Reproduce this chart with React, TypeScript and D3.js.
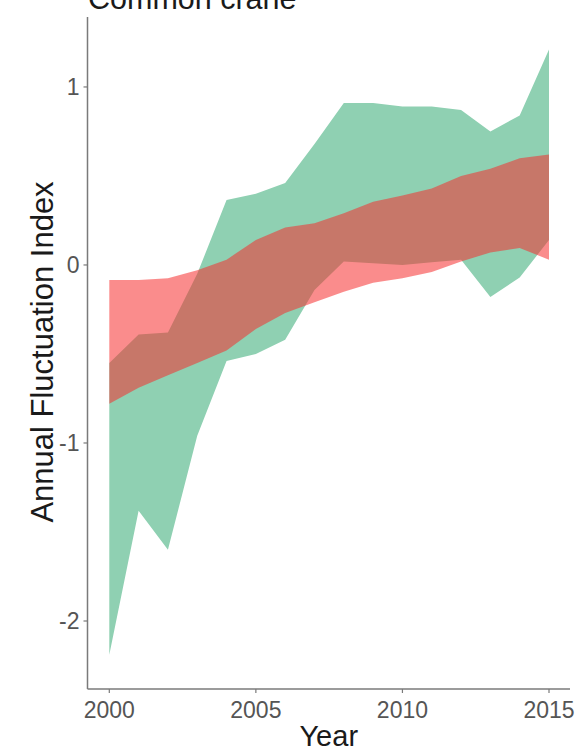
import React from "react";
import * as d3 from "d3";

const years = [2000, 2001, 2002, 2003, 2004, 2005, 2006, 2007, 2008, 2009, 2010, 2011, 2012, 2013, 2014, 2015];
const greenUpper = [-0.55, -0.39, -0.38, -0.05, 0.365, 0.40, 0.46, 0.68, 0.91, 0.91, 0.89, 0.89, 0.87, 0.75, 0.84, 1.21];
const greenLower = [-2.19, -1.38, -1.60, -0.96, -0.54, -0.50, -0.42, -0.14, 0.02, 0.01, 0.0, 0.015, 0.03, -0.18, -0.07, 0.14];
const redUpper = [-0.085, -0.085, -0.075, -0.03, 0.03, 0.14, 0.21, 0.235, 0.29, 0.355, 0.39, 0.43, 0.50, 0.54, 0.60, 0.62];
const redLower = [-0.78, -0.69, -0.62, -0.55, -0.48, -0.36, -0.27, -0.21, -0.15, -0.10, -0.075, -0.04, 0.02, 0.07, 0.095, 0.03];
const xTicks = [2000, 2005, 2010, 2015];
const yTicks = [-2, -1, 0, 1];
const title = "Common crane";
const xTitle = "Year";
const yTitle = "Annual Fluctuation Index";

export default function App() {
  const W = 577, H = 752;
  const left = 87.5, right = 570, top = 17, bottom = 689;
  const x = d3.scaleLinear().domain([2000, 2015]).range([109.3, 549]);
  const y = d3.scaleLinear().domain([-2.382, 1.393]).range([bottom, top]);
  const font = "'Liberation Sans', Arial, sans-serif";

  const greenPath = d3
    .area<number>()
    .x((_, i) => x(years[i]))
    .y0((_, i) => y(greenLower[i]))
    .y1((_, i) => y(greenUpper[i]))(years);
  const redPath = d3
    .area<number>()
    .x((_, i) => x(years[i]))
    .y0((_, i) => y(redLower[i]))
    .y1((_, i) => y(redUpper[i]))(years);

  const axisColor = "#7a7a7a";
  const tickText = "#555555";

  return (
    <svg
      width={W}
      height={H}
      style={{ position: "absolute", left: 0, top: 0, background: "#ffffff" }}
    >
      <rect x={0} y={0} width={W} height={H} fill="#ffffff" />
      <path d={greenPath || ""} fill="#8fd0b2" />
      <path d={redPath || ""} fill="rgb(246,46,46)" fillOpacity={0.55} />

      <line x1={left} x2={left} y1={top} y2={bottom} stroke={axisColor} strokeWidth={1.5} />
      <line x1={left} x2={right} y1={bottom} y2={bottom} stroke={axisColor} strokeWidth={1.5} />

      {yTicks.map((t) => (
        <g key={"y" + t}>
          <line x1={left - 4} x2={left} y1={y(t)} y2={y(t)} stroke={axisColor} strokeWidth={1.2} />
          <text
            x={left - 8}
            y={y(t)}
            dy="0.35em"
            textAnchor="end"
            fontFamily={font}
            fontSize={23}
            fill={tickText}
          >
            {t}
          </text>
        </g>
      ))}
      {xTicks.map((t) => (
        <g key={"x" + t}>
          <line x1={x(t)} x2={x(t)} y1={bottom} y2={bottom + 4} stroke={axisColor} strokeWidth={1.2} />
          <text
            x={x(t)}
            y={718}
            textAnchor="middle"
            fontFamily={font}
            fontSize={23}
            fill={tickText}
          >
            {t}
          </text>
        </g>
      ))}

      <text x={(left + right) / 2} y={746} textAnchor="middle" fontFamily={font} fontSize={29} fill="#1a1a1a">
        {xTitle}
      </text>
      <text
        transform={`translate(53, 352) rotate(-90)`}
        textAnchor="middle"
        fontFamily={font}
        fontSize={31}
        fill="#1a1a1a"
      >
        {yTitle}
      </text>
      <text x={88} y={9} fontFamily={font} fontSize={30.5} fill="#1a1a1a">
        {title}
      </text>
    </svg>
  );
}
